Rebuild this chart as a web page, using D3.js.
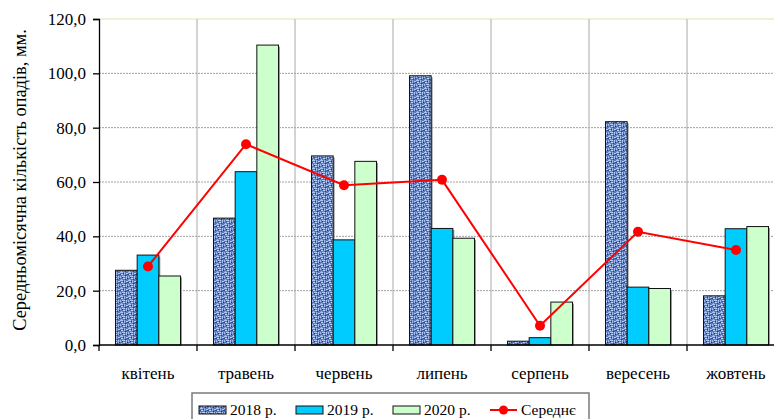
<!DOCTYPE html>
<html>
<head>
<meta charset="utf-8">
<script src="https://cdn.jsdelivr.net/npm/d3@7/dist/d3.min.js"></script>
<style>
  html, body { margin: 0; padding: 0; background: #fff; }
  svg { display: block; }
</style>
</head>
<body>
<svg id="chart" width="774" height="419"></svg>
<script>
// Monthly precipitation, mm
const months = ["квітень", "травень", "червень", "липень", "серпень", "вересень", "жовтень"];
const series = ["2018 р.", "2019 р.", "2020 р."];
const y2018 = [27.5, 46.7, 69.6, 99.1, 1.4, 82.2, 18.1];
const y2019 = [33.1, 63.8, 38.7, 42.9, 2.7, 21.3, 42.8];
const y2020 = [25.4, 110.4, 67.6, 39.3, 15.8, 20.8, 43.6];
const average = [28.9, 73.9, 58.8, 60.8, 7.1, 41.7, 35.0];
const yTicks = [0, 20, 40, 60, 80, 100, 120];
const avgLabel = "Середнє";
const yTitle = "Середньомісячна кількість опадів, мм.";

const FONT = "'Liberation Serif', 'Times New Roman', serif";
const svg = d3.select("#chart");
const defs = svg.append("defs");

// woven texture for the 2018 bars
const pat = defs.append("pattern")
  .attr("id", "weave").attr("patternUnits", "userSpaceOnUse")
  .attr("width", 8).attr("height", 8);
pat.append("rect").attr("width", 8).attr("height", 8).attr("fill", "#5878be");
[[0,0,3,1,"#a9c3f2"],[4,0,1,3,"#9ab6ea"],[1,2,2,1,"#c6d8f8"],[6,1,2,1,"#b3caf3"],
 [0,4,1,2,"#9fbaee"],[2,4,3,1,"#b9cff6"],[6,4,1,3,"#a5bff0"],[3,6,2,1,"#c0d4f7"],
 [1,7,1,1,"#aac4f2"],[5,3,1,1,"#24386e"],[3,1,1,1,"#263d78"],[7,6,1,1,"#22366c"],
 [0,2,1,1,"#2c4480"],[5,7,1,1,"#2a427e"],[2,5,1,1,"#2d4683"],[7,2,1,1,"#30498a"]]
  .forEach(([px, py, w, h, c]) => pat.append("rect").attr("x", px).attr("y", py)
    .attr("width", w).attr("height", h).attr("fill", c));

const fills = ["url(#weave)", "#00ccff", "#ccffcc"];
const values = [y2018, y2019, y2020];

const plotLeft = 99, plotRight = 785, plotTop = 19, plotBottom = 345;

const x = d3.scaleBand().domain(months).range([plotLeft, plotRight]).padding(0);
const xi = d3.scaleBand().domain(series).range([16.5, x.bandwidth() - 16.5]).padding(0);
const y = d3.scaleLinear().domain([0, 120]).range([plotBottom, plotTop]);

// horizontal gridlines
svg.append("g").selectAll("line").data(yTicks.filter(t => t > 0 && t < 120)).join("line")
  .attr("x1", plotLeft).attr("x2", plotRight)
  .attr("y1", d => y(d)).attr("y2", d => y(d))
  .attr("stroke", "#a0a0a0").attr("stroke-width", 1).attr("stroke-dasharray", "2,1");
// top border of plot area
svg.append("line").attr("x1", plotLeft).attr("x2", plotRight).attr("y1", y(120)).attr("y2", y(120))
  .attr("stroke", "#e2e2b4").attr("stroke-width", 1);
// vertical gridlines at category boundaries
svg.append("g").selectAll("line").data(months.slice(1)).join("line")
  .attr("x1", d => x(d)).attr("x2", d => x(d))
  .attr("y1", plotTop).attr("y2", plotBottom)
  .attr("stroke", "#a8a8a8").attr("stroke-width", 1);

// bars
const rows = [];
months.forEach((m, i) => series.forEach((s, j) => rows.push({ m, s, j, v: values[j][i] })));
const bars = svg.append("g");
bars.selectAll("rect.shadow").data(rows).join("rect").attr("class", "shadow")
  .attr("x", d => x(d.m) + xi(d.s) + 1.5).attr("y", d => y(d.v) + 1.5)
  .attr("width", xi.bandwidth()).attr("height", d => Math.max(0, plotBottom - y(d.v) - 1.5))
  .attr("fill", "#9a9a9a");
bars.selectAll("rect.bar").data(rows).join("rect").attr("class", "bar")
  .attr("x", d => x(d.m) + xi(d.s)).attr("y", d => y(d.v))
  .attr("width", xi.bandwidth()).attr("height", d => plotBottom - y(d.v))
  .attr("fill", d => fills[d.j]).attr("stroke", "#111").attr("stroke-width", 1);

// axes
const yAxis = svg.append("g").attr("transform", `translate(${plotLeft},0)`)
  .call(d3.axisLeft(y).tickValues(yTicks).tickSize(6).tickPadding(7)
    .tickFormat(d => d3.format(".1f")(d).replace(".", ",")));
yAxis.select(".domain").attr("stroke", "#000").attr("stroke-width", 1.3);
yAxis.selectAll(".tick line").attr("stroke", "#000").attr("stroke-width", 1.3);
yAxis.selectAll("text").attr("fill", "#000")
  .style("font-family", FONT).style("font-size", "17px");

const xAxis = svg.append("g").attr("transform", `translate(0,${plotBottom})`);
xAxis.append("line").attr("x1", plotLeft).attr("x2", plotRight).attr("stroke", "#000").attr("stroke-width", 1.3);
xAxis.selectAll("line.tk").data(months).join("line").attr("class", "tk")
  .attr("x1", d => x(d)).attr("x2", d => x(d)).attr("y1", 0).attr("y2", 6)
  .attr("stroke", "#000").attr("stroke-width", 1.3);
xAxis.selectAll("text").data(months).join("text")
  .attr("x", d => x(d) + x.bandwidth() / 2).attr("y", 34)
  .attr("text-anchor", "middle").attr("fill", "#000")
  .style("font-family", FONT).style("font-size", "17px")
  .text(d => d);

// average line
const line = d3.line().x((d, i) => x(months[i]) + x.bandwidth() / 2).y(d => y(d));
svg.append("path").datum(average).attr("d", line)
  .attr("fill", "none").attr("stroke", "#ff0000").attr("stroke-width", 2);
svg.append("g").selectAll("circle").data(average).join("circle")
  .attr("cx", (d, i) => x(months[i]) + x.bandwidth() / 2).attr("cy", d => y(d))
  .attr("r", 5).attr("fill", "#ff0000");

// y title, sized to run along the plot height
const title = svg.append("text").attr("transform", `translate(26,180) rotate(-90)`)
  .attr("text-anchor", "middle").attr("fill", "#000")
  .style("font-family", FONT).style("font-size", "17px")
  .text(yTitle);
const tl = title.node().getComputedTextLength();
if (tl > 0) title.style("font-size", (17 * 302 / tl) + "px");

// legend
const lg = svg.append("g");
lg.append("rect").attr("x", 192).attr("y", 393).attr("width", 397).attr("height", 40)
  .attr("fill", "#fff").attr("stroke", "#7a7a7a").attr("stroke-width", 1.5);
const legendItems = [
  { label: series[0], type: "bar", fill: fills[0], x: 199 },
  { label: series[1], type: "bar", fill: fills[1], x: 296 },
  { label: series[2], type: "bar", fill: fills[2], x: 393 },
  { label: avgLabel, type: "line", x: 490 }
];
legendItems.forEach(it => {
  if (it.type === "bar") {
    lg.append("rect").attr("x", it.x).attr("y", 406).attr("width", 27).attr("height", 8)
      .attr("fill", it.fill).attr("stroke", "#111").attr("stroke-width", 1);
  } else {
    lg.append("line").attr("x1", it.x).attr("x2", it.x + 27).attr("y1", 410).attr("y2", 410)
      .attr("stroke", "#ff0000").attr("stroke-width", 2);
    lg.append("circle").attr("cx", it.x + 13.5).attr("cy", 410).attr("r", 4.5).attr("fill", "#ff0000");
  }
  lg.append("text").attr("x", it.x + 31).attr("y", 415).attr("fill", "#000")
    .style("font-family", FONT).style("font-size", "15.5px")
    .text(it.label);
});
</script>
</body>
</html>
